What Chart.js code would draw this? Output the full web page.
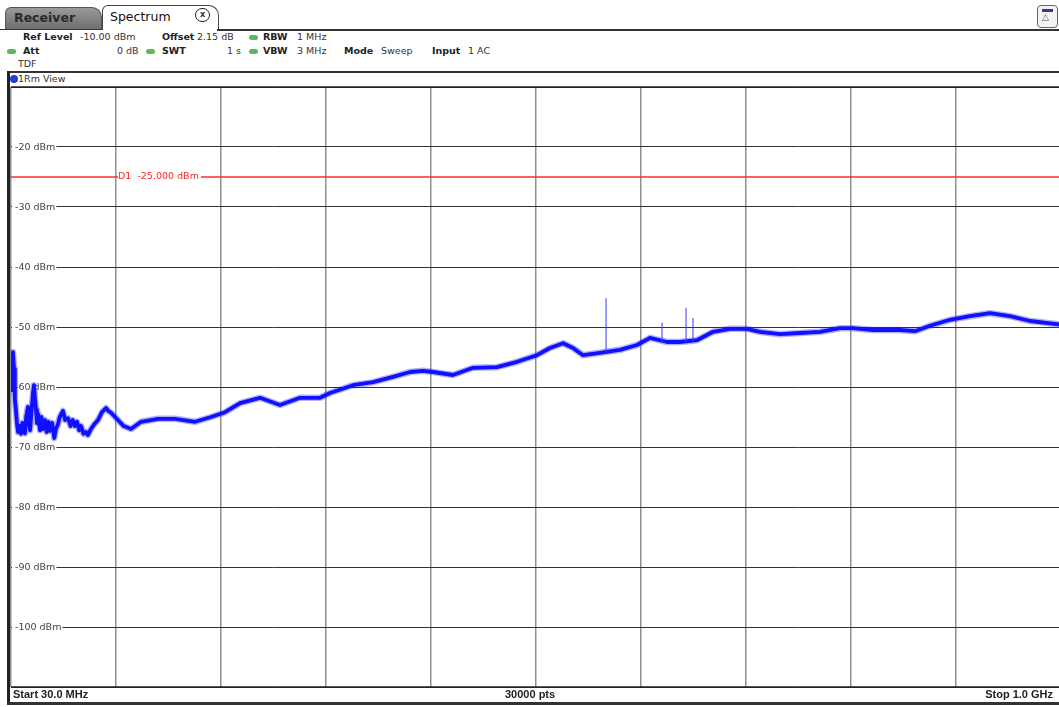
<!DOCTYPE html>
<html>
<head>
<meta charset="utf-8">
<script src="https://cdn.jsdelivr.net/npm/chart.js@4"></script>
<style>
  html, body { margin: 0; padding: 0; background: #fff; overflow: hidden; width: 1059px; height: 707px; }
  body { position: relative; font-family: 'DejaVu Sans', Verdana, sans-serif; font-size: 9.5px; color: #333; }
  .abs { position: absolute; white-space: nowrap; }
  .b { font-weight: bold; color: #222; }
  .dot { position: absolute; width: 9px; height: 5px; border-radius: 3px; background: #5cb85c; }
  .tab-rx { left: 5px; top: 7px; width: 95px; height: 21px; background: linear-gradient(#9a9a9a, #6f6f6f);
            border: 1px solid #555; border-bottom: none; border-radius: 6px 10px 0 0; }
  .tab-sp { left: 102px; top: 5px; width: 115px; height: 24px; background: #fff;
            border: 1px solid #444; border-bottom: none; border-radius: 6px 10px 0 0; }
  .hline { position: absolute; left: 0; right: 0; background: #333; }
  #wrap { position: absolute; left: 0; top: 80px; width: 1075px; height: 615px; }
</style>
</head>
<body>
<!-- tabs -->
<div class="abs tab-rx"></div>
<div class="abs b" style="left:14px;top:10px;font-size:12.5px;color:#2a2a2a;">Receiver</div>
<div class="abs tab-sp"></div>
<div class="abs" style="left:110px;top:9px;font-size:12.5px;color:#111;">Spectrum</div>
<div class="abs" style="left:195px;top:8px;width:13px;height:12px;border:1.5px solid #222;border-radius:7px;font-size:8px;line-height:12px;text-align:center;font-weight:bold;">x</div>
<div class="hline" style="top:29px;height:1.5px;left:217px;"></div>
<div class="hline" style="top:29px;height:1px;left:0;width:103px;"></div>
<!-- right icon -->
<div class="abs" style="left:1037px;top:5px;width:19px;height:21px;border:1px solid #666;border-radius:4px;background:#f4f4f4;"></div>
<div class="abs" style="left:1042px;top:9px;width:11px;height:3px;background:#3a3a8a;"></div>
<div class="abs" style="left:1042px;top:12px;font-size:9px;color:#555;">△</div>

<!-- setting rows -->
<div class="abs b" style="left:23px;top:31px;">Ref Level</div>
<div class="abs" style="left:80px;top:31px;">-10.00 dBm</div>
<div class="abs b" style="left:162px;top:31px;">Offset</div>
<div class="abs" style="left:197px;top:31px;">2.15 dB</div>
<div class="dot" style="left:249px;top:35px;"></div>
<div class="abs b" style="left:263px;top:31px;">RBW</div>
<div class="abs" style="left:297px;top:31px;">1 MHz</div>

<div class="dot" style="left:7px;top:49px;"></div>
<div class="abs b" style="left:23px;top:45px;">Att</div>
<div class="abs" style="left:117px;top:45px;">0 dB</div>
<div class="dot" style="left:146px;top:49px;"></div>
<div class="abs b" style="left:162px;top:45px;">SWT</div>
<div class="abs" style="left:227px;top:45px;">1 s</div>
<div class="dot" style="left:249px;top:49px;"></div>
<div class="abs b" style="left:263px;top:45px;">VBW</div>
<div class="abs" style="left:297px;top:45px;">3 MHz</div>
<div class="abs b" style="left:344px;top:45px;">Mode</div>
<div class="abs" style="left:381px;top:45px;">Sweep</div>
<div class="abs b" style="left:432px;top:45px;">Input</div>
<div class="abs" style="left:468px;top:45px;">1 AC</div>
<div class="abs" style="left:18px;top:58px;">TDF</div>

<!-- view bar -->
<div class="hline" style="top:71px;height:2px;left:8px;"></div>
<div class="abs" style="left:10px;top:75px;width:8px;height:8px;border-radius:4px;background:#1f3fd8;"></div>
<div class="abs" style="left:18px;top:73px;font-size:9.5px;">1Rm View</div>

<div id="wrap"><canvas id="spec"></canvas></div>

<!-- frame -->
<div class="abs" style="left:7px;top:71px;width:3px;height:634px;background:#222;"></div>
<div class="hline" style="top:702px;height:3px;left:7px;"></div>
<div class="abs b" style="left:13px;top:688px;font-family:'Liberation Sans Narrow','Liberation Sans',sans-serif;font-size:11px;">Start 30.0 MHz</div>
<div class="abs b" style="left:505px;top:688px;font-family:'Liberation Sans Narrow','Liberation Sans',sans-serif;font-size:11px;">30000 pts</div>
<div class="abs b" style="right:6px;top:688px;font-family:'Liberation Sans Narrow','Liberation Sans',sans-serif;font-size:11px;">Stop 1.0 GHz</div>

<script>
/* ---------- data ---------- */
const X_TICKS  = [30, 127, 224, 321, 418, 515, 612, 709, 806, 903, 1000];   // MHz
const Y_TICKS  = [-10, -20, -30, -40, -50, -60, -70, -80, -90, -100, -110]; // dBm
const Y_LABELS = ['', '-20 dBm', '-30 dBm', '-40 dBm', '-50 dBm', '-60 dBm',
                  '-70 dBm', '-80 dBm', '-90 dBm', '-100 dBm', ''];

// trace 1Rm (MHz / dBm), envelope of the noisy band read at the low end
const FREQ  = [30, 30.8, 31.8, 32.8, 33.6, 34.6, 35.5, 36.5, 38, 39.2, 40.5, 41.5, 42.9, 44, 45.7,
               46.5, 47.6, 49, 50.3, 51.2, 52.2, 53.1, 54, 55, 56.8, 58, 59.5, 61.4, 63, 64.5, 66,
               68, 70, 71.5, 73.4, 75, 78, 80, 82.7, 85, 87, 89.1, 91, 93, 94.7, 97, 99.3, 101,
               103.9, 107, 110.4, 114, 117.8, 120, 122.4, 128.8, 134, 140.9, 150.1,
               165.8, 181.5, 200.0, 214.8, 227.7, 241.6, 260.0, 278.5, 297.0, 315.5, 324.7,
               346.0, 364.4, 382.9, 398.6, 410.6, 419.9, 438.3, 456.8, 479.0, 497.5, 515.9,
               527.9, 540.0, 549.2, 558.4, 574.1, 592.6, 608.3, 620.3, 636.0, 648.0, 663.7,
               678.5, 694.2, 709.9, 721.9, 740.4, 758.9, 777.3, 795.8, 807.8, 826.3, 851.3,
               865.1, 879.0, 897.5, 915.9, 934.4, 952.9, 971.4, 1000];
const LEVEL = [-60.5, -57.0, -54.2, -57.0, -62.0, -64.0, -66.0, -67.5, -66.5, -67.8, -66.0, -67.5,
               -67.7, -65.0, -63.3, -66.0, -67.2, -64.0, -61.0, -59.7, -62.0, -63.8, -66.0, -64.5,
               -67.2, -65.0, -67.0, -65.5, -67.5, -65.8, -67.3, -66.0, -68.5, -67.0, -66.2, -65.0,
               -64.0, -65.5, -65.2, -66.5, -65.5, -66.5, -65.8, -67.2, -66.5, -67.8, -67.5, -68.0,
               -67.0, -66.2, -65.5, -64.2, -63.5, -64.0, -64.3, -65.5, -66.5, -67.0, -65.8,
               -65.3, -65.3, -65.8, -65.0, -64.2, -62.7, -61.8, -63.0, -61.8, -61.8,
               -61.0, -59.7, -59.2, -58.3, -57.5, -57.3, -57.5, -58.0, -56.8, -56.7, -55.8, -54.7,
               -53.5, -52.7, -53.5, -54.7, -54.3, -53.8, -53.0, -51.8, -52.5, -52.5, -52.2, -50.8,
               -50.3, -50.3, -50.8, -51.2, -51.0, -50.8, -50.2, -50.2, -50.5, -50.5, -50.7, -49.8,
               -48.8, -48.2, -47.7, -48.2, -49.0, -49.6];

const SPIKE_FREQ = [579.7, 631.4, 653.6, 660.0];
const SPIKE_BASE = [-54.2, -52.5, -52.5, -52.3];
const SPIKE_TOP  = [-45.2, -49.3, -46.8, -48.5];

const D1_LEVEL = -25;
const D1_TEXT  = 'D1  -25.000 dBm';

/* ---------- build datasets ---------- */
const tracePts = FREQ.map((f, i) => ({ x: f, y: LEVEL[i] }));
const spikePts = [];
SPIKE_FREQ.forEach((f, i) => {
  spikePts.push({ x: f, y: SPIKE_BASE[i] }, { x: f, y: SPIKE_TOP[i] }, { x: f, y: null });
});

/* labels + display line drawn under the trace */
const overlay = {
  id: 'overlay',
  beforeDatasetsDraw(chart) {
    const { ctx, chartArea: a, scales: { x, y } } = chart;
    ctx.save();

    // D1 display line
    const yd = Math.round(y.getPixelForValue(D1_LEVEL));
    ctx.strokeStyle = '#ff2a2a';
    ctx.lineWidth = 1.3;
    ctx.beginPath(); ctx.moveTo(a.left, yd); ctx.lineTo(a.right, yd); ctx.stroke();
    ctx.font = '9.5px "DejaVu Sans", sans-serif';
    ctx.textBaseline = 'middle';
    const lx = x.getPixelForValue(X_TICKS[1]) + 2;
    const tw = ctx.measureText(D1_TEXT).width;
    ctx.fillStyle = '#fff';
    ctx.fillRect(lx, yd - 6, tw + 2, 12);
    ctx.fillStyle = '#ff2a2a';
    ctx.fillText(D1_TEXT, lx, yd);

    // level labels
    Y_TICKS.forEach((v, i) => {
      if (!Y_LABELS[i]) return;
      const py = Math.round(y.getPixelForValue(v)) + 0.5;
      const w = ctx.measureText(Y_LABELS[i]).width;
      ctx.fillStyle = '#fff';
      ctx.fillRect(a.left + 1, py - 6, w + 4, 12);
      ctx.fillStyle = '#444';
      ctx.fillText(Y_LABELS[i], a.left + 4, py);
    });
    ctx.restore();
  },
  afterDraw(chart) {
    const { ctx, chartArea: a } = chart;
    ctx.save();
    ctx.strokeStyle = '#222';
    ctx.lineWidth = 1.5;
    ctx.beginPath();
    ctx.moveTo(a.left, a.top); ctx.lineTo(a.right, a.top);
    ctx.moveTo(a.left, a.bottom); ctx.lineTo(a.right, a.bottom);
    ctx.stroke();
    ctx.restore();
  }
};

new Chart(document.getElementById('spec'), {
  type: 'scatter',
  data: {
    datasets: [
      {
        label: 'Spikes',
        data: spikePts,
        showLine: true,
        spanGaps: false,
        borderColor: 'rgba(60,60,255,0.85)',
        borderWidth: 1.2,
        pointRadius: 0
      },
      {
        label: '1Rm halo',
        data: tracePts,
        showLine: true,
        borderColor: 'rgba(30,30,255,0.35)',
        borderWidth: 6.5,
        borderJoinStyle: 'round',
        pointRadius: 0
      },
      {
        label: '1Rm',
        data: tracePts,
        showLine: true,
        borderColor: '#0a0aff',
        borderWidth: 3.8,
        borderJoinStyle: 'round',
        pointRadius: 0
      }
    ]
  },
  plugins: [overlay],
  options: {
    responsive: true,
    maintainAspectRatio: false,
    animation: false,
    layout: { padding: { left: 11, right: 14, top: 7, bottom: 8 } },
    plugins: { legend: { display: false }, tooltip: { enabled: false } },
    scales: {
      x: {
        type: 'linear', min: 30, max: 1000,
        afterBuildTicks: s => { s.ticks = X_TICKS.map(v => ({ value: v })); },
        ticks: { display: false },
        border: { display: false },
        grid: { color: '#8f8f8f', lineWidth: 1.5, drawTicks: false }
      },
      y: {
        type: 'linear', min: -110, max: -10,
        afterBuildTicks: s => { s.ticks = Y_TICKS.map(v => ({ value: v })); },
        ticks: { display: false },
        border: { display: false },
        grid: { color: '#333', lineWidth: 1, drawTicks: false }
      }
    }
  }
});
</script>
</body>
</html>
